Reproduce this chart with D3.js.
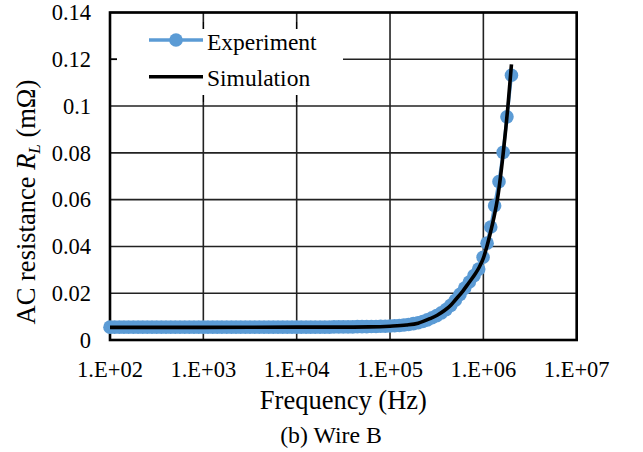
<!DOCTYPE html>
<html>
<head>
<meta charset="utf-8">
<script src="https://cdn.jsdelivr.net/npm/d3@7"></script>
<style>
html,body{margin:0;padding:0;background:#fff;}
svg text{font-family:'Liberation Serif','Times New Roman',Times,serif;}
</style>
</head>
<body>
<svg id="chart" width="643" height="452" style="display:block"></svg>
<script>
// ---- data ----
const xTickValues = [1e2, 1e3, 1e4, 1e5, 1e6, 1e7];
const xTickLabels = ["1.E+02", "1.E+03", "1.E+04", "1.E+05", "1.E+06", "1.E+07"];
const yTickValues = [0, 0.02, 0.04, 0.06, 0.08, 0.1, 0.12, 0.14];
const yTickLabels = ["0", "0.02", "0.04", "0.06", "0.08", "0.1", "0.12", "0.14"];

const expFreq = [
  100, 112, 126, 141, 158, 178, 200, 224, 251, 282, 316, 355, 398, 447, 501, 562, 631, 708, 794, 891,
  1000, 1120, 1260, 1410, 1580, 1780, 2000, 2240, 2510, 2820, 3160, 3550, 3980, 4470, 5010, 5620, 6310, 7080, 7940, 8910,
  10000, 11200, 12600, 14100, 15800, 17800, 20000, 22400, 25100, 28200, 31600, 35500, 39800, 44700, 50100, 56200, 63100, 70800, 79400, 89100,
  100000, 112000, 126000, 141000, 158000, 178000, 200000, 224000, 251000, 282000, 316000, 355000, 398000, 447000, 501000, 562000, 631000, 708000, 794000, 891000,
  993000, 1096000, 1200000, 1320000, 1470000, 1630000, 1790000, 2000000
];
const expR = [
  0.0055, 0.0055, 0.0055, 0.0055, 0.0055, 0.0055, 0.0055, 0.0055, 0.0055, 0.0055, 0.0055, 0.0055, 0.0055, 0.0055, 0.0055, 0.0055, 0.0055, 0.0055, 0.0055, 0.0055,
  0.0055, 0.0055, 0.0055, 0.0055, 0.0055, 0.0055, 0.0055, 0.0055, 0.0055, 0.0055, 0.0055, 0.0055, 0.0055, 0.0055, 0.0055, 0.0055, 0.0055, 0.0055, 0.0055, 0.0055,
  0.0055, 0.0055, 0.0055, 0.0055, 0.0055, 0.0055, 0.0055, 0.0055, 0.0056, 0.0056, 0.0056, 0.0056, 0.0056, 0.0057, 0.0057, 0.0057, 0.0058, 0.0058, 0.0059, 0.0059,
  0.0060, 0.0061, 0.0062, 0.0064, 0.0066, 0.0070, 0.0074, 0.0079, 0.0086, 0.0095, 0.0104, 0.0116, 0.0130, 0.0148, 0.0170, 0.0195, 0.0222, 0.0248, 0.0275, 0.0303,
  0.0354, 0.0414, 0.0483, 0.0574, 0.0677, 0.0802, 0.0954, 0.1132
];

const simFreq = [100, 1000, 10000, 30000, 60000, 100000, 150000, 200000, 267000, 320000, 386000, 450000, 500000, 600000, 700000, 800000, 900000, 1000000, 1100000, 1200000, 1300000, 1440000, 1625000, 1840000, 2000000];
const simR =    [0.0054, 0.0054, 0.0055, 0.0055, 0.0056, 0.0059, 0.0064, 0.0072, 0.0091, 0.0106, 0.0127, 0.0150, 0.0171, 0.0208, 0.0245, 0.0277, 0.0310, 0.0350, 0.0405, 0.0465, 0.0525, 0.0622, 0.0792, 0.1006, 0.1178];

const seriesNames = ["Experiment", "Simulation"];
const caption = "(b) Wire B";
const xTitle = "Frequency (Hz)";

// ---- layout ----
const FONT = "'Liberation Serif','Times New Roman',Times,serif";
const svg = d3.select("#chart").attr("font-family", FONT);
const pL = 110, pR = 576.7, pT = 12.5, pB = 340;
const x = d3.scaleLog().domain([1e2, 1e7]).range([pL, pR]);
const y = d3.scaleLinear().domain([0, 0.14]).range([pB, pT]);
const blue = "#5B9BD5";

// gridlines
svg.append("g").selectAll("line").data(yTickValues).join("line")
  .attr("x1", pL).attr("x2", pR)
  .attr("y1", d => y(d)).attr("y2", d => y(d))
  .attr("stroke", "#222").attr("stroke-width", 1.6);
svg.append("g").selectAll("line").data(xTickValues).join("line")
  .attr("x1", d => x(d)).attr("x2", d => x(d))
  .attr("y1", pT).attr("y2", pB)
  .attr("stroke", "#222").attr("stroke-width", 1.6);

// legend background (white, covers grid)
svg.append("rect").attr("x", 117).attr("y", 22).attr("width", 226).attr("height", 80).attr("fill", "#fff");
// tick stubs visible over legend background
svg.append("g").selectAll("line").data([0.12]).join("line")
  .attr("x1", pL).attr("x2", pL + 7)
  .attr("y1", d => y(d)).attr("y2", d => y(d))
  .attr("stroke", "#000").attr("stroke-width", 1.6);
svg.append("g").selectAll("line").data([1e3, 1e4]).join("line")
  .attr("x1", d => x(d)).attr("x2", d => x(d))
  .attr("y1", 22).attr("y2", 29)
  .attr("stroke", "#000").attr("stroke-width", 1.6);
svg.append("g").selectAll("line").data([1e3, 1e4]).join("line")
  .attr("x1", d => x(d)).attr("x2", d => x(d))
  .attr("y1", 95).attr("y2", 102)
  .attr("stroke", "#000").attr("stroke-width", 1.6);

// plot border
svg.append("rect").attr("x", pL).attr("y", pT).attr("width", pR - pL).attr("height", pB - pT)
  .attr("fill", "none").attr("stroke", "#000").attr("stroke-width", 2.6);

// experiment line + markers
const expData = expFreq.map((f, i) => [f, expR[i]]);
const lineGen = d3.line().x(d => x(d[0])).y(d => y(d[1]));
svg.append("path").attr("d", lineGen(expData)).attr("fill", "none")
  .attr("stroke", blue).attr("stroke-width", 3.3);
svg.append("g").selectAll("circle").data(expData).join("circle")
  .attr("cx", d => x(d[0])).attr("cy", d => y(d[1])).attr("r", 6.8).attr("fill", blue);

// simulation line
const simData = simFreq.map((f, i) => [f, simR[i]]);
const simGen = d3.line().x(d => x(d[0])).y(d => y(d[1])).curve(d3.curveMonotoneX);
svg.append("path").attr("d", simGen(simData)).attr("fill", "none")
  .attr("stroke", "#000").attr("stroke-width", 3.6);

// axis labels
svg.append("g").selectAll("text").data(yTickValues).join("text")
  .attr("font-family", FONT)
  .attr("x", 91).attr("y", d => y(d)).attr("dy", "0.34em")
  .attr("text-anchor", "end").attr("font-size", 22.5).attr("fill", "#000")
  .text((d, i) => yTickLabels[i]);
svg.append("g").selectAll("text").data(xTickValues).join("text")
  .attr("font-family", FONT)
  .attr("x", d => x(d)).attr("y", 377)
  .attr("text-anchor", "middle").attr("font-size", 22.5).attr("fill", "#000")
  .text((d, i) => xTickLabels[i]);

svg.append("text").attr("font-family", FONT).attr("x", (pL + pR) / 2).attr("y", 409)
  .attr("text-anchor", "middle").attr("font-size", 26.5).text(xTitle);
svg.append("text").attr("font-family", FONT).attr("x", 331).attr("y", 443)
  .attr("text-anchor", "middle").attr("font-size", 23.8).text(caption);

const yt = svg.append("text").attr("font-family", FONT).attr("transform", "translate(35,202) rotate(-90)")
  .attr("text-anchor", "middle").attr("font-size", 26.5);
yt.append("tspan").text("AC resistance ");
yt.append("tspan").attr("font-style", "italic").text("R");
yt.append("tspan").attr("font-style", "italic").attr("font-size", 17).attr("dy", 5).text("L");
yt.append("tspan").attr("dy", -5).text(" (mΩ)");

// legend
const lg = svg.append("g");
lg.append("line").attr("x1", 149).attr("x2", 203).attr("y1", 40).attr("y2", 40)
  .attr("stroke", blue).attr("stroke-width", 3.3);
lg.append("circle").attr("cx", 176).attr("cy", 40).attr("r", 6.8).attr("fill", blue);
lg.append("text").attr("font-family", FONT).attr("x", 207).attr("y", 49.5).attr("font-size", 23.5).text(seriesNames[0]);
lg.append("line").attr("x1", 149).attr("x2", 203).attr("y1", 76.7).attr("y2", 76.7)
  .attr("stroke", "#000").attr("stroke-width", 3.6);
lg.append("text").attr("font-family", FONT).attr("x", 207).attr("y", 86).attr("font-size", 23.5).text(seriesNames[1]);
</script>
</body>
</html>
